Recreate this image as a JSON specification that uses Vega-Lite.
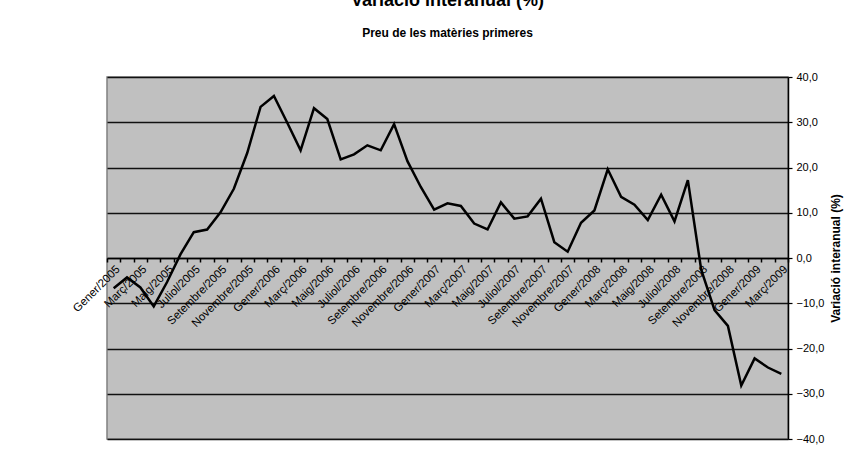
{
  "$schema": "https://vega.github.io/schema/vega-lite/v6.json",
  "autosize": {"type": "none"},
  "padding": {"left": 107, "top": 77, "right": 57, "bottom": 15},
  "width": 681,
  "height": 362,
  "background": "white",
  "title": {
    "text": "Variació interanual (%)",
    "subtitle": "Preu de les matèries primeres",
    "font": "Liberation Sans",
    "fontSize": 18,
    "fontWeight": "bold",
    "color": "black",
    "subtitleFont": "Liberation Sans",
    "subtitleFontSize": 12,
    "subtitleFontWeight": "bold",
    "subtitleColor": "black",
    "subtitlePadding": 18,
    "anchor": "middle",
    "frame": "group",
    "offset": 32
  },
  "config": {
    "view": {"fill": "#C0C0C0", "stroke": "#808080", "strokeWidth": 1.5},
    "font": "Liberation Sans"
  },
  "data": {
    "values": [
      {"mes": "Gener/2005", "valor": -6.7},
      {"mes": "Febrer/2005", "valor": -4.3},
      {"mes": "Març/2005", "valor": -6.5},
      {"mes": "Abril/2005", "valor": -10.7},
      {"mes": "Maig/2005", "valor": -5.3},
      {"mes": "Juny/2005", "valor": 0.8},
      {"mes": "Juliol/2005", "valor": 5.7},
      {"mes": "Agost/2005", "valor": 6.3},
      {"mes": "Setembre/2005", "valor": 10.1},
      {"mes": "Octubre/2005", "valor": 15.3},
      {"mes": "Novembre/2005", "valor": 23.2},
      {"mes": "Desembre/2005", "valor": 33.4},
      {"mes": "Gener/2006", "valor": 35.8},
      {"mes": "Febrer/2006", "valor": 29.9},
      {"mes": "Març/2006", "valor": 23.8},
      {"mes": "Abril/2006", "valor": 33.1},
      {"mes": "Maig/2006", "valor": 30.7},
      {"mes": "Juny/2006", "valor": 21.8},
      {"mes": "Juliol/2006", "valor": 22.9},
      {"mes": "Agost/2006", "valor": 24.9},
      {"mes": "Setembre/2006", "valor": 23.8},
      {"mes": "Octubre/2006", "valor": 29.6},
      {"mes": "Novembre/2006", "valor": 21.4},
      {"mes": "Desembre/2006", "valor": 15.7},
      {"mes": "Gener/2007", "valor": 10.7},
      {"mes": "Febrer/2007", "valor": 12.1},
      {"mes": "Març/2007", "valor": 11.5},
      {"mes": "Abril/2007", "valor": 7.6},
      {"mes": "Maig/2007", "valor": 6.3},
      {"mes": "Juny/2007", "valor": 12.3},
      {"mes": "Juliol/2007", "valor": 8.7},
      {"mes": "Agost/2007", "valor": 9.2},
      {"mes": "Setembre/2007", "valor": 13.1},
      {"mes": "Octubre/2007", "valor": 3.5},
      {"mes": "Novembre/2007", "valor": 1.4},
      {"mes": "Desembre/2007", "valor": 7.8},
      {"mes": "Gener/2008", "valor": 10.5},
      {"mes": "Febrer/2008", "valor": 19.6},
      {"mes": "Març/2008", "valor": 13.5},
      {"mes": "Abril/2008", "valor": 11.8},
      {"mes": "Maig/2008", "valor": 8.4},
      {"mes": "Juny/2008", "valor": 14.0},
      {"mes": "Juliol/2008", "valor": 8.1},
      {"mes": "Agost/2008", "valor": 17.2},
      {"mes": "Setembre/2008", "valor": -2.6},
      {"mes": "Octubre/2008", "valor": -11.5},
      {"mes": "Novembre/2008", "valor": -15.0},
      {"mes": "Desembre/2008", "valor": -28.2},
      {"mes": "Gener/2009", "valor": -22.2},
      {"mes": "Febrer/2009", "valor": -24.2},
      {"mes": "Març/2009", "valor": -25.6}
    ]
  },
  "mark": {"type": "line", "color": "black", "strokeWidth": 2.5, "strokeJoin": "miter"},
  "encoding": {
    "x": {
      "field": "mes",
      "type": "ordinal",
      "sort": null,
      "scale": {"paddingInner": 0, "paddingOuter": 0},
      "axis": {
        "title": null,
        "offset": -181,
        "zindex": 1,
        "domain": true,
        "domainColor": "black",
        "domainWidth": 1.5,
        "ticks": true,
        "tickBand": "extent",
        "tickColor": "black",
        "tickSize": 4,
        "tickWidth": 1.5,
        "tickOpacity": 1,
        "grid": false,
        "labelAngle": -45,
        "labelFontSize": 11.5,
        "labelFont": "Liberation Sans",
        "labelColor": "black",
        "labelPadding": 1,
        "labelOverlap": false,
        "labelBound": false,
        "labelExpr": "indexof(['Gener','Març','Maig','Juliol','Setembre','Novembre'], split(datum.value, '/')[0]) >= 0 ? datum.value : ''"
      }
    },
    "y": {
      "field": "valor",
      "type": "quantitative",
      "scale": {"domain": [-40, 40], "nice": false, "zero": false},
      "axis": {
        "orient": "right",
        "values": [-40, -30, -20, -10, 0, 10, 20, 30, 40],
        "title": "Variació interanual (%)",
        "titleFont": "Liberation Sans",
        "titleFontSize": 12,
        "titleFontWeight": "bold",
        "titleColor": "black",
        "titleAngle": 270,
        "titlePadding": 19,
        "domainColor": "black",
        "domainWidth": 1.5,
        "tickColor": "black",
        "tickSize": 4,
        "tickWidth": 1.2,
        "labelFontSize": 11,
        "labelFont": "Liberation Sans",
        "labelColor": "black",
        "labelPadding": 4,
        "labelExpr": "replace(format(datum.value, '.1f'), '.', ',')",
        "grid": true,
        "gridColor": "#111111",
        "gridWidth": 1.5
      }
    }
  }
}
